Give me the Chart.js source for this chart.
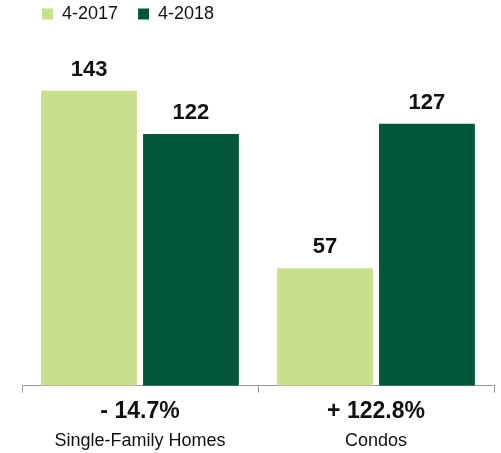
<!DOCTYPE html>
<html>
<head>
<meta charset="utf-8">
<script src="https://cdn.jsdelivr.net/npm/chart.js@4.4.1/dist/chart.umd.min.js"></script>
<style>
  html, body { margin: 0; padding: 0; background: #fff; }
  #wrap { width: 501px; height: 453px; }
</style>
</head>
<body>
<div id="wrap"><canvas id="chart"></canvas></div>
<script>
// データ
const categories = ['Single-Family Homes', 'Condos'];
const changeLabels = ['- 14.7%', '+ 122.8%'];
const seriesNames = ['4-2017', '4-2018'];
const values2017 = [143, 57];
const values2018 = [122, 127];

const colors = ['#C9DF8B', '#03563A'];
const fontFamily = '"Liberation Sans", Arial, Helvetica, sans-serif';

// 棒の上に数値を描く
const valueLabels = {
  id: 'valueLabels',
  afterDatasetsDraw(chart) {
    const ctx = chart.ctx;
    ctx.save();
    ctx.font = 'bold 22px ' + fontFamily;
    ctx.fillStyle = '#111';
    ctx.textAlign = 'center';
    ctx.textBaseline = 'alphabetic';
    chart.data.datasets.forEach((ds, i) => {
      chart.getDatasetMeta(i).data.forEach((bar, j) => {
        ctx.fillText(ds.data[j], bar.x, bar.y - 15);
      });
    });
    ctx.restore();
  }
};

new Chart(document.getElementById('chart'), {
  type: 'bar',
  data: {
    labels: changeLabels,
    datasets: [
      { label: seriesNames[0], data: values2017, backgroundColor: colors[0] },
      { label: seriesNames[1], data: values2018, backgroundColor: colors[1] }
    ]
  },
  options: {
    responsive: true,
    maintainAspectRatio: false,
    animation: false,
    categoryPercentage: 0.864,
    barPercentage: 0.94,
    layout: { padding: { left: 22, right: 7, top: -15, bottom: 1 } },
    plugins: {
      legend: {
        align: 'start',
        labels: {
          boxWidth: 11,
          boxHeight: 11,
          padding: 20,
          color: '#111',
          font: { family: fontFamily, size: 18 }
        }
      },
      tooltip: { enabled: false }
    },
    scales: {
      x: {
        position: 'bottom',
        grid: { drawOnChartArea: false, color: '#999', tickLength: 7, offset: true },
        border: { color: '#999' },
        ticks: { color: '#111', padding: 5, font: { family: fontFamily, size: 23, weight: 'bold' } }
      },
      x2: {
        position: 'bottom',
        labels: categories,
        grid: { display: false, drawTicks: false },
        border: { display: false },
        ticks: { color: '#111', padding: 0, font: { family: fontFamily, size: 18 } }
      },
      y: {
        display: false,
        min: 0,
        max: 171
      }
    }
  },
  plugins: [valueLabels]
});
</script>
</body>
</html>
